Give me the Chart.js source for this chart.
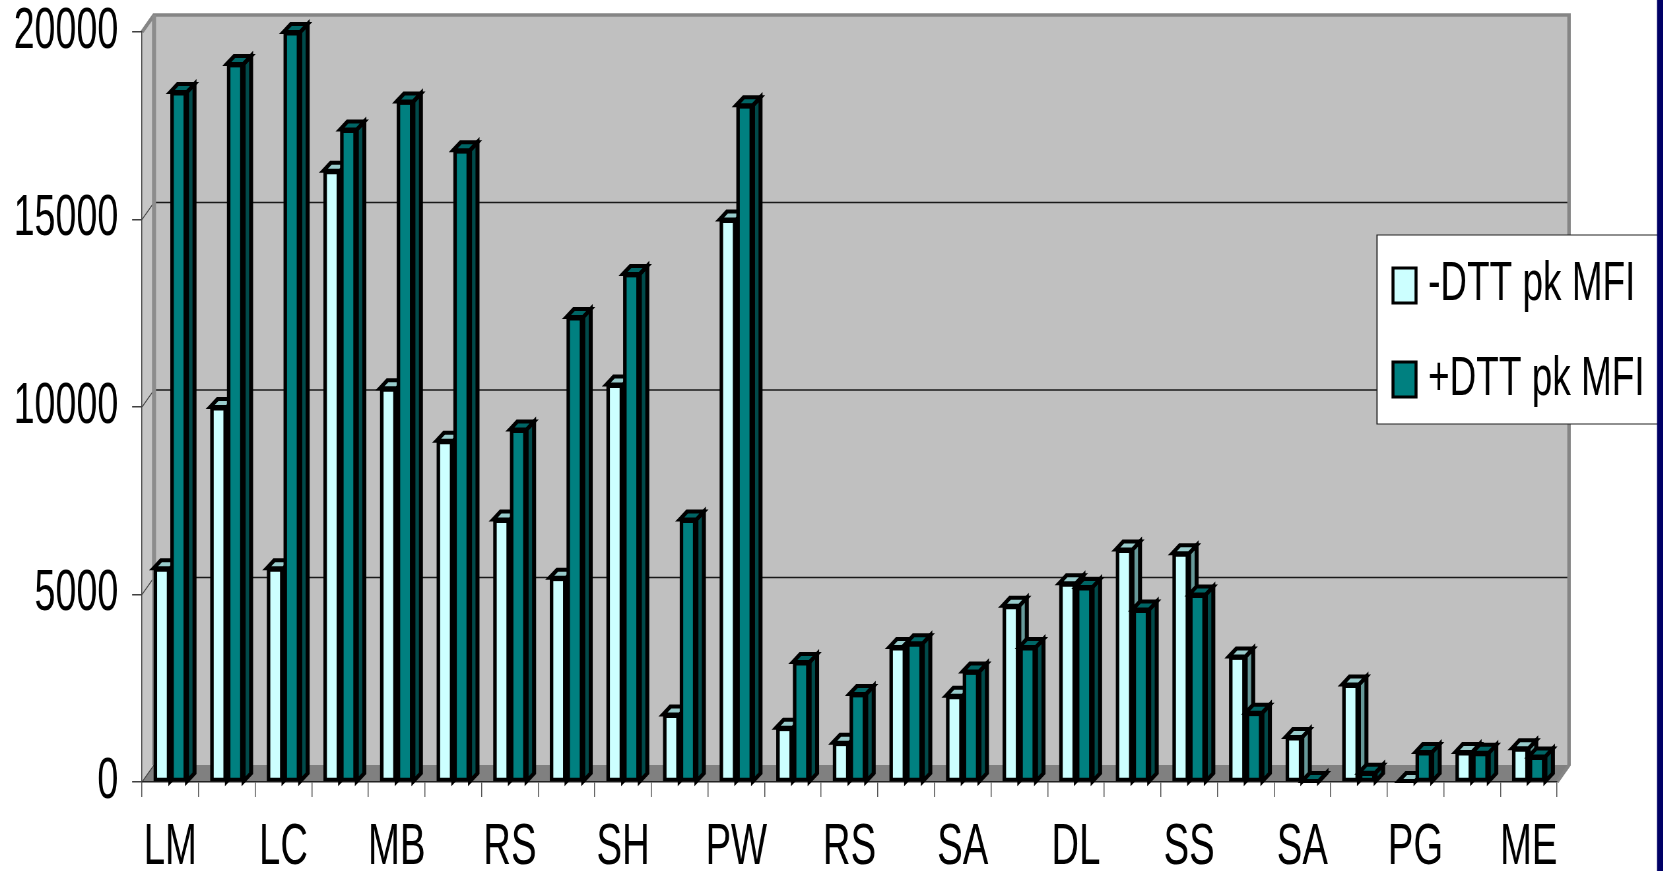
<!DOCTYPE html>
<html>
<head>
<meta charset="utf-8">
<title>DTT pk MFI</title>
<script src="https://cdn.jsdelivr.net/npm/chart.js@4.4.1/dist/chart.umd.min.js"></script>
<style>
  html, body { margin: 0; padding: 0; overflow: hidden; background: #fff; width: 1663px; height: 871px; }
  /* the drawing is made on a wide canvas and narrowed horizontally, which gives the condensed lettering */
  #wrap { position: absolute; left: 0; top: 0; width: 2520px; height: 871px; transform: scaleX(0.66); transform-origin: 0 0; }
  canvas { display: block; }
</style>
</head>
<body>
<div id="wrap"><canvas id="chart" width="2520" height="871"></canvas></div>
<script>
// ---- data ----
const categories = ['LM', '', 'LC', '', 'MB', '', 'RS', '', 'SH', '', 'PW', '', 'RS', '',
                    'SA', '', 'DL', '', 'SS', '', 'SA', '', 'PG', '', 'ME'];
const minusDTT = [5700, 10000, 5700, 16300, 10500, 9100, 7000, 5450, 10600, 1800,
                  15000, 1450, 1050, 3600, 2300, 4700, 5300, 6200, 6100, 3350,
                  1200, 2600, 30, 800, 900];
const plusDTT  = [18400, 19150, 20000, 17400, 18150, 16850, 9400, 12400, 13550, 7000,
                  18050, 3200, 2350, 3700, 2950, 3600, 5200, 4600, 5000, 1850,
                  30, 250, 800, 780, 680];
const yTicks = [0, 5000, 10000, 15000, 20000];
const seriesNames = ['-DTT pk MFI', '+DTT pk MFI'];

// ---- layout (canvas units; x is narrowed by SX on screen) ----
const SX = 0.66;
const CW = 2520, CH = 871;
const X = v => v / SX;              // screen x -> canvas x
const AREA = { left: X(142), right: X(1557), top: 32, bottom: 782 };
const WALL_DX = X(12), WALL_DY = -17;   // depth of the box
const BAR_DX = X(7.5), BAR_DY = -8;     // depth of each column
const EDGE_X = X(3.5), EDGE_Y = 3.5;    // outline of the column fronts
const OUTLINE = 4;                      // outline of the column sides and tops
const FONT = '"Liberation Sans", Arial, Helvetica, sans-serif';

function poly(ctx, pts) {
  ctx.beginPath();
  ctx.moveTo(pts[0][0], pts[0][1]);
  for (let i = 1; i < pts.length; i++) ctx.lineTo(pts[i][0], pts[i][1]);
  ctx.closePath();
}
// stroke with a pen that looks round after the horizontal narrowing
function penStroke(ctx, color, w) {
  ctx.save();
  ctx.scale(1 / SX, 1);
  ctx.strokeStyle = color;
  ctx.lineWidth = w;
  ctx.stroke();
  ctx.restore();
}

// one column: front, right-hand face and top face, placed by the bar element
function drawColumn(ctx, el, ds) {
  const { x, y, base, width } = el.getProps(['x', 'y', 'base', 'width'], true);
  const l = x - width / 2, r = x + width / 2;
  const top = Math.min(y, base), bot = Math.max(y, base);
  ctx.fillStyle = '#000';
  ctx.fillRect(l, top, r - l, bot - top);
  if (bot - top > 2 * EDGE_Y) {
    ctx.fillStyle = ds.backgroundColor;
    ctx.fillRect(l + EDGE_X, top + EDGE_Y, r - l - 2 * EDGE_X, bot - top - 2 * EDGE_Y);
  }
  poly(ctx, [[r, top], [r + BAR_DX, top + BAR_DY], [r + BAR_DX, bot + BAR_DY], [r, bot]]);
  ctx.fillStyle = ds.sideColor;
  ctx.fill();
  penStroke(ctx, '#000', OUTLINE);
  poly(ctx, [[l, top], [l + BAR_DX, top + BAR_DY], [r + BAR_DX, top + BAR_DY], [r, top]]);
  ctx.fillStyle = ds.capColor;
  ctx.fill();
  penStroke(ctx, '#000', OUTLINE);
}

const box3d = {
  id: 'box3d',
  beforeDraw(chart) {
    const { ctx, chartArea: a, scales: { y } } = chart;
    const L = a.left, R = a.right;
    const yTop = y.getPixelForValue(yTicks[yTicks.length - 1]);
    const yZero = y.getPixelForValue(0);
    const dx = WALL_DX, dy = WALL_DY;
    ctx.save();
    ctx.fillStyle = '#fff';
    ctx.fillRect(0, 0, chart.width, chart.height);
    // back wall
    ctx.fillStyle = '#C0C0C0';
    ctx.fillRect(L + dx, yTop + dy, R - L, yZero - yTop);
    // side wall
    poly(ctx, [[L, yTop], [L + dx, yTop + dy], [L + dx, yZero + dy], [L, yZero]]);
    ctx.fillStyle = '#C6C6C6';
    ctx.fill();
    // floor
    poly(ctx, [[L, yZero], [L + dx, yZero + dy], [R + dx, yZero + dy], [R, yZero]]);
    ctx.fillStyle = '#808080';
    ctx.fill();
    // gridlines on the back wall and their links to the front axis
    yTicks.forEach(v => {
      const py = y.getPixelForValue(v);
      if (v !== 0 && v !== yTicks[yTicks.length - 1]) {
        ctx.beginPath();
        ctx.moveTo(L + dx, py + dy);
        ctx.lineTo(R + dx, py + dy);
        ctx.strokeStyle = '#1a1a1a';
        ctx.lineWidth = 1.5;
        ctx.stroke();
      }
      ctx.beginPath();
      ctx.moveTo(L, py);
      ctx.lineTo(L + dx, py + dy);
      penStroke(ctx, '#404040', 1);
    });
    // wall frame
    ctx.beginPath();
    ctx.moveTo(L, yTop);
    ctx.lineTo(L + dx, yTop + dy);
    ctx.lineTo(R + dx, yTop + dy);
    ctx.lineTo(R + dx, yZero + dy);
    ctx.lineTo(R, yZero);
    ctx.lineJoin = 'miter';
    penStroke(ctx, '#858585', 3.5);
    ctx.beginPath();
    ctx.moveTo(L + dx, yTop + dy);
    ctx.lineTo(L + dx, yZero + dy);
    penStroke(ctx, '#8c8c8c', 4);
    ctx.restore();
  },
  // columns are painted category by category so each right-hand column covers its neighbour's side
  beforeDatasetDraw() { return false; },
  afterDatasetsDraw(chart) {
    const ctx = chart.ctx;
    const sets = chart.data.datasets;
    const metas = sets.map((d, i) => chart.getDatasetMeta(i));
    ctx.save();
    ctx.lineJoin = 'miter';
    for (let j = 0; j < chart.data.labels.length; j++) {
      metas.forEach((m, i) => { if (m.data[j]) drawColumn(ctx, m.data[j], sets[i]); });
    }
    ctx.restore();
  },
  afterDraw(chart) {
    const ctx = chart.ctx;
    const ds = chart.data.datasets;
    ctx.save();
    // legend box
    const bx = X(1377), by = 235, bh = 189;
    ctx.fillStyle = '#fff';
    ctx.fillRect(bx, by, CW - bx, bh);
    ctx.beginPath();
    ctx.rect(bx, by, CW - bx, bh);
    penStroke(ctx, '#222', 1.2);
    const rows = [{ top: 268, base: 300 }, { top: 362, base: 395 }];
    ds.forEach((d, i) => {
      const r = rows[i];
      ctx.beginPath();
      ctx.rect(X(1393), r.top, X(1416) - X(1393), 35);
      ctx.fillStyle = d.backgroundColor;
      ctx.fill();
      penStroke(ctx, '#000', 3);
      ctx.fillStyle = '#000';
      ctx.font = '56px ' + FONT;
      ctx.textAlign = 'left';
      ctx.textBaseline = 'alphabetic';
      ctx.fillText(d.label, X(1428), r.base);
    });
    // slide border on the right
    ctx.fillStyle = '#000066';
    ctx.fillRect(X(1657), 0, CW - X(1657), CH);
    ctx.restore();
  }
};

new Chart(document.getElementById('chart'), {
  type: 'bar',
  data: {
    labels: categories,
    datasets: [
      { label: seriesNames[0], data: minusDTT, backgroundColor: '#CCFFFF',
        sideColor: '#669999', capColor: '#99CCCC' },
      { label: seriesNames[1], data: plusDTT, backgroundColor: '#008080',
        sideColor: '#004A4A', capColor: '#006666' }
    ]
  },
  options: {
    responsive: false,
    animation: false,
    devicePixelRatio: 1,
    layout: { padding: { top: AREA.top, right: CW - AREA.right, left: 0, bottom: 0 } },
    datasets: { bar: { categoryPercentage: 0.59, barPercentage: 1.0 } },
    plugins: { legend: { display: false }, tooltip: { enabled: false } },
    scales: {
      x: {
        grid: { offset: true, drawOnChartArea: false, drawTicks: true, tickLength: 15, color: '#555', lineWidth: 1.5 },
        border: { display: true, color: '#222', width: 1.5 },
        ticks: { autoSkip: false, maxRotation: 0, minRotation: 0, padding: 22, color: '#000',
                 font: { family: FONT, size: 58, lineHeight: 1 } },
        afterFit(s) { s.height = CH - AREA.bottom; s.paddingLeft = 0; s.paddingRight = 0; }
      },
      y: {
        min: yTicks[0],
        max: yTicks[yTicks.length - 1],
        afterBuildTicks(s) { s.ticks = yTicks.map(v => ({ value: v })); },
        grid: { drawOnChartArea: false, drawTicks: true, tickLength: 15, color: '#404040', lineWidth: 1.5 },
        border: { display: true, color: '#404040', width: 1.5 },
        ticks: { padding: 21, color: '#000', font: { family: FONT, size: 57, lineHeight: 1 },
                 callback: v => String(v) },
        afterFit(s) { s.width = AREA.left; s.paddingTop = 0; s.paddingBottom = 0; }
      }
    }
  },
  plugins: [box3d]
});
</script>
</body>
</html>
